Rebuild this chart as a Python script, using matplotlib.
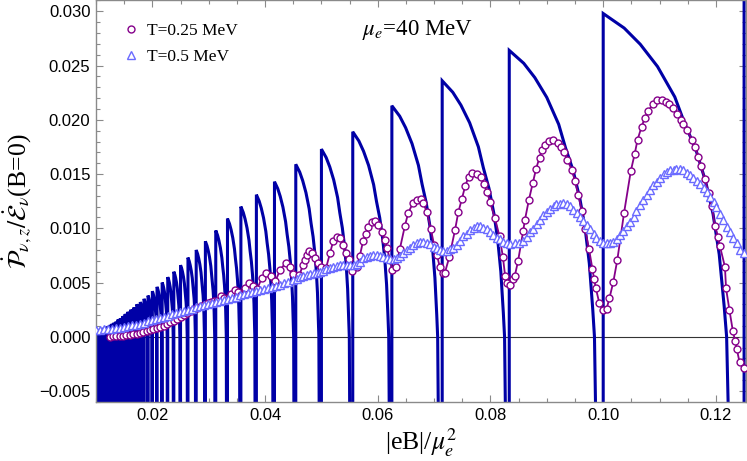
import numpy as np
import matplotlib
matplotlib.use('Agg')
import matplotlib.pyplot as plt
from matplotlib.ticker import MultipleLocator, FuncFormatter
from matplotlib.lines import Line2D

# ---------------- data ----------------
# T = 0 curve: Landau-level thresholds |eB|/mu^2, peak value at each threshold,
# fraction of the segment at which the curve crosses zero
blue_thresh = [0.01, 0.0102, 0.01042, 0.01064, 0.01087, 0.01111, 0.01136, 0.01163,
               0.0119, 0.0122, 0.0125, 0.01282, 0.01316, 0.01351, 0.01389, 0.01429,
               0.01471, 0.01515, 0.01563, 0.01613, 0.01667, 0.01724, 0.01786, 0.01852,
               0.01923, 0.02, 0.02083, 0.02174, 0.02273, 0.02381, 0.025, 0.02632,
               0.02778, 0.02941, 0.03125, 0.03333, 0.03571, 0.03846, 0.04167, 0.04545,
               0.05, 0.05556, 0.0625, 0.07143, 0.08333, 0.1, 0.125]
blue_peak = [0.0006, 0.0006, 0.0006, 0.0007, 0.0007, 0.0008, 0.0008, 0.0009,
             0.0009, 0.0010, 0.0011, 0.0012, 0.0013, 0.0014, 0.0016, 0.0017,
             0.0019, 0.0021, 0.0023, 0.0025, 0.0027, 0.0030, 0.0032, 0.0035,
             0.0038, 0.0042, 0.0046, 0.0050, 0.0055, 0.0060, 0.0066, 0.0073,
             0.0080, 0.0088, 0.0098, 0.0109, 0.0120, 0.0131, 0.0143, 0.0159,
             0.0173, 0.0189, 0.0213, 0.0236, 0.0264, 0.0298, 0.0340]
blue_zero_frac = [0.9] * 40 + [0.89, 0.92, 0.91, 0.93, 0.907, 0.876, 0.856]
# normalised shape of one segment (fraction of zero-crossing span, fraction of peak)
profile_s = [0.0, 0.17, 0.30, 0.44, 0.58, 0.66, 0.75, 0.83, 0.89, 0.94, 0.98, 1.0]
profile_f = [1.0, 0.955, 0.905, 0.836, 0.742, 0.66, 0.58, 0.48, 0.38, 0.255, 0.095, 0.0]

# T = 0.25 MeV
purple_x = [0.0124, 0.0130, 0.0136, 0.0142, 0.0148, 0.0154, 0.0160, 0.0166, 0.0172, 0.0178,
            0.0184, 0.0190, 0.0196, 0.0202, 0.0208, 0.0214, 0.0220, 0.0226, 0.0232, 0.0238,
            0.0244, 0.0250, 0.0256, 0.0262, 0.0268, 0.0274, 0.0280, 0.0286, 0.0292, 0.0298,
            0.0304, 0.0310, 0.0315,
            0.0322, 0.0328, 0.0334, 0.0340, 0.0346, 0.0352, 0.0358, 0.0365, 0.0372, 0.0379,
            0.0386, 0.0394, 0.0402, 0.0410, 0.0418, 0.0427, 0.0437, 0.0444, 0.0450, 0.0461,
            0.0467, 0.0471, 0.0474, 0.0478, 0.0484, 0.0489, 0.0494, 0.0500, 0.0508, 0.0515,
            0.0521, 0.0527, 0.0533, 0.0538, 0.0544, 0.0549, 0.0555, 0.0563, 0.0568, 0.0574,
            0.0579, 0.0583, 0.0589, 0.0595, 0.0601, 0.0607, 0.0613, 0.0616, 0.0622, 0.0626,
            0.0632, 0.0639, 0.0648, 0.0654, 0.0662, 0.0669, 0.0676, 0.0681, 0.0687, 0.0694,
            0.0700, 0.0705, 0.0710, 0.0715, 0.0719, 0.0727, 0.0737, 0.0743, 0.0749, 0.0755,
            0.0761, 0.0768, 0.0776, 0.0783, 0.0788, 0.0794, 0.0799, 0.0808, 0.0816, 0.0822,
            0.0826, 0.0830, 0.0835, 0.0840, 0.0843, 0.0849, 0.0858, 0.0861, 0.0868, 0.0875,
            0.0881, 0.0887, 0.0891, 0.0897, 0.0904, 0.0911, 0.0919, 0.0925, 0.0930, 0.0936,
            0.0944, 0.0950, 0.0956, 0.0962, 0.0968, 0.0975, 0.0981, 0.0984, 0.0987, 0.0993,
            0.0999, 0.1006, 0.1011, 0.1018, 0.1025, 0.1037, 0.1049, 0.1056, 0.1061, 0.1068,
            0.1074, 0.1080, 0.1088, 0.1095, 0.1104, 0.1111, 0.1117, 0.1124, 0.1131, 0.1138,
            0.1142, 0.1149, 0.1157, 0.1163, 0.1169, 0.1173, 0.1181, 0.1187, 0.1193, 0.1198,
            0.1204, 0.1207, 0.1216, 0.1218, 0.1224, 0.1230, 0.1234, 0.1237, 0.1242, 0.1249]
purple_y = [0.00002, 0.00003, 0.00004, 0.00006, 0.00008, 0.00012, 0.00016, 0.00022, 0.00030, 0.00038,
            0.00047, 0.00056, 0.00065, 0.00074, 0.00082, 0.00091, 0.00102, 0.00117, 0.00133, 0.00150,
            0.00166, 0.00183, 0.00200, 0.00217, 0.00234, 0.00252, 0.00268, 0.00283, 0.00297, 0.00310,
            0.00322, 0.00330, 0.00330,
            0.00372, 0.00360, 0.00345, 0.00390, 0.00430, 0.00410, 0.00385, 0.00450, 0.00497, 0.00470,
            0.00440, 0.00540, 0.00589, 0.00560, 0.00510, 0.00620, 0.00682, 0.00645, 0.00578, 0.00568,
            0.00660, 0.00706, 0.00752, 0.00792, 0.00774, 0.00722, 0.00676, 0.00645, 0.00630, 0.00768,
            0.00884, 0.00916, 0.00906, 0.00845, 0.00768, 0.00713, 0.00608, 0.00639, 0.00743, 0.00884,
            0.00946, 0.01008, 0.01059, 0.01068, 0.01029, 0.00967, 0.00891, 0.00823, 0.00706, 0.00620,
            0.00639, 0.00805, 0.01020, 0.01142, 0.01229, 0.01259, 0.01266, 0.01229, 0.01151, 0.00998,
            0.00845, 0.00752, 0.00645, 0.00589, 0.00589, 0.00737, 0.00983, 0.01151, 0.01266, 0.01388,
            0.01474, 0.01511, 0.01505, 0.01474, 0.01406, 0.01336, 0.01243, 0.01091, 0.00927, 0.00737,
            0.00559, 0.00497, 0.00476, 0.00530, 0.00559, 0.00700, 0.00976, 0.01075, 0.01259, 0.01418,
            0.01551, 0.01652, 0.01720, 0.01766, 0.01805, 0.01812, 0.01787, 0.01750, 0.01704, 0.01634,
            0.01542, 0.01437, 0.01305, 0.01161, 0.00989, 0.00805, 0.00621, 0.00529, 0.00446, 0.00313,
            0.00246, 0.00258, 0.00354, 0.00507, 0.00707, 0.01142, 0.01529, 0.01689, 0.01818, 0.01934,
            0.02021, 0.02082, 0.02143, 0.02180, 0.02187, 0.02165, 0.02143, 0.02113, 0.02058, 0.02002,
            0.01966, 0.01910, 0.01818, 0.01750, 0.01658, 0.01572, 0.01450, 0.01321, 0.01204, 0.01020,
            0.00921, 0.00838, 0.00645, 0.00446, 0.00246, 0.00055, -0.00037, -0.00113, -0.00236, -0.00291]

# T = 0.5 MeV
tri_x = [0.0100, 0.0107, 0.0114, 0.0121, 0.0128, 0.0135, 0.0142, 0.0150, 0.0157, 0.0164,
         0.0171, 0.0178, 0.0185, 0.0192, 0.0199, 0.0206, 0.0214, 0.0221, 0.0228, 0.0235,
         0.0242, 0.0249, 0.0256, 0.0263, 0.0270, 0.0277, 0.0284, 0.0292, 0.0299, 0.0306,
         0.0313, 0.0320, 0.0327, 0.0334, 0.0341, 0.0348, 0.0355, 0.0363, 0.0370, 0.0377,
         0.0384, 0.0391, 0.0398, 0.0405, 0.0412, 0.0419, 0.0427, 0.0434, 0.0441,
         0.0450, 0.0456, 0.0462, 0.0468, 0.0474, 0.0480, 0.0486, 0.0492, 0.0497, 0.0503,
         0.0509, 0.0515, 0.0521, 0.0527, 0.0533, 0.0539, 0.0545, 0.0551, 0.0557, 0.0563,
         0.0568, 0.0574, 0.0580, 0.0586, 0.0592, 0.0598, 0.0604, 0.0610, 0.0616, 0.0622,
         0.0628, 0.0634, 0.0639, 0.0645, 0.0651, 0.0657, 0.0663, 0.0669, 0.0675, 0.0681,
         0.0687, 0.0693, 0.0699, 0.0705, 0.0710, 0.0716, 0.0722, 0.0728, 0.0734, 0.0740,
         0.0746, 0.0752, 0.0758, 0.0764, 0.0770, 0.0776, 0.0782, 0.0787, 0.0793, 0.0799,
         0.0805, 0.0811, 0.0817, 0.0823, 0.0829, 0.0835,
         0.0843, 0.0851, 0.0857, 0.0864, 0.0870, 0.0876, 0.0882, 0.0888, 0.0894, 0.0900,
         0.0906, 0.0912, 0.0917, 0.0923, 0.0929, 0.0935, 0.0941, 0.0947, 0.0953, 0.0959,
         0.0965, 0.0971, 0.0977, 0.0983, 0.0988, 0.0994, 0.1000, 0.1006, 0.1012, 0.1018,
         0.1024, 0.1030, 0.1036, 0.1042, 0.1048, 0.1054, 0.1059, 0.1065, 0.1071, 0.1077,
         0.1083, 0.1089, 0.1095, 0.1101, 0.1107, 0.1113, 0.1119, 0.1125, 0.1130, 0.1136,
         0.1142, 0.1148, 0.1154, 0.1160, 0.1166, 0.1172, 0.1178, 0.1184, 0.1190, 0.1196,
         0.1201, 0.1207, 0.1213, 0.1219, 0.1225, 0.1231, 0.1237, 0.1243, 0.1249]
tri_y = [0.00062, 0.00065, 0.00068, 0.00071, 0.00073, 0.00079, 0.00085, 0.00091, 0.00097, 0.00104,
         0.00113, 0.00122, 0.00131, 0.00141, 0.00151, 0.00161, 0.00172, 0.00182, 0.00194, 0.00206,
         0.00218, 0.00229, 0.00239, 0.00250, 0.00260, 0.00271, 0.00281, 0.00291, 0.00302, 0.00312,
         0.00322, 0.00331, 0.00341, 0.00350, 0.00360, 0.00370, 0.00381, 0.00391, 0.00401, 0.00411,
         0.00420, 0.00430, 0.00440, 0.00450, 0.00462, 0.00471, 0.00481, 0.00493, 0.00505,
         0.00528, 0.00537, 0.00547, 0.00559, 0.00568, 0.00578, 0.00584, 0.00590, 0.00599, 0.00608,
         0.00621, 0.00630, 0.00645, 0.00654, 0.00660, 0.00660, 0.00664, 0.00660, 0.00660, 0.00670,
         0.00691, 0.00722, 0.00737, 0.00743, 0.00753, 0.00753, 0.00743, 0.00731, 0.00722, 0.00713,
         0.00713, 0.00722, 0.00743, 0.00768, 0.00799, 0.00823, 0.00845, 0.00860, 0.00875, 0.00875,
         0.00866, 0.00851, 0.00829, 0.00814, 0.00799, 0.00792, 0.00792, 0.00805, 0.00823, 0.00845,
         0.00885, 0.00928, 0.00952, 0.00983, 0.01007, 0.01020, 0.01020, 0.01007, 0.00989, 0.00967,
         0.00937, 0.00915, 0.00897, 0.00875, 0.00860, 0.00851,
         0.00860, 0.00866, 0.00884, 0.00921, 0.00967, 0.00998, 0.01044, 0.01075, 0.01121, 0.01152,
         0.01182, 0.01204, 0.01222, 0.01228, 0.01234, 0.01222, 0.01204, 0.01173, 0.01143, 0.01106,
         0.01069, 0.01029, 0.00989, 0.00952, 0.00915, 0.00885, 0.00866, 0.00860, 0.00860, 0.00875,
         0.00897, 0.00937, 0.00977, 0.01020, 0.01060, 0.01106, 0.01161, 0.01213, 0.01259, 0.01305,
         0.01351, 0.01397, 0.01428, 0.01468, 0.01499, 0.01520, 0.01535, 0.01542, 0.01548, 0.01545,
         0.01535, 0.01511, 0.01489, 0.01468, 0.01437, 0.01406, 0.01376, 0.01336, 0.01290, 0.01244,
         0.01192, 0.01136, 0.01081, 0.01013, 0.00967, 0.00906, 0.00860, 0.00798, 0.00768]

legend_labels = ['T=0.25 MeV', 'T=0.5 MeV']
annotation = r'$\mu_e$=40 MeV'
x_ticks = [0.02, 0.04, 0.06, 0.08, 0.10, 0.12]
y_ticks = [-0.005, 0.0, 0.005, 0.010, 0.015, 0.020, 0.025, 0.030]

# ---------------- styling ----------------
plt.rcParams['mathtext.fontset'] = 'stix'
SERIF = ['Liberation Serif', 'DejaVu Serif']
SANS = ['Liberation Sans', 'DejaVu Sans']
C_BLUE = '#0000a6'
C_PURPLE = '#85008a'
C_TRI = '#6a6aff'
FRAME = '#8a8a8a'

fig = plt.figure(figsize=(7.47, 4.61), dpi=100)
ax = fig.add_axes([96 / 747, 58.7 / 461, 649.5 / 747, 401.8 / 461])

# T = 0 sawtooth built segment by segment from the read values
bottom = -0.03
bx, by = [], []
for i, x0 in enumerate(blue_thresh):
    x1 = blue_thresh[i + 1] if i + 1 < len(blue_thresh) else x0 + 0.03
    span = (x1 - x0) * blue_zero_frac[i]
    bx += [x0, x0]
    by += [bottom, blue_peak[i]]
    for s, f in zip(profile_s[1:], profile_f[1:]):
        bx.append(x0 + s * span)
        by.append(blue_peak[i] * f)
    bx.append(x0 + 1.06 * span)
    by.append(bottom)
ax.plot(bx, by, color=C_BLUE, lw=2.2, zorder=2, solid_joinstyle='miter')

ax.axhline(0, color='#333333', lw=0.8, zorder=1.5)

ax.plot(purple_x, purple_y, color=C_PURPLE, lw=1.3, marker='o', ms=5.0,
        mfc='white', mec=C_PURPLE, mew=1.0, zorder=3)
ax.plot(tri_x, tri_y, color=C_TRI, lw=0, marker='^', ms=5.5,
        mfc='white', mec=C_TRI, mew=1.0, zorder=4)

ax.set_xlim(0.01, 0.12525)
ax.set_ylim(-0.00604, 0.0310)

ax.set_xticks(x_ticks)
ax.set_yticks(y_ticks)
ax.xaxis.set_minor_locator(MultipleLocator(0.005))
ax.yaxis.set_minor_locator(MultipleLocator(0.001))
ax.xaxis.set_major_formatter(FuncFormatter(lambda v, p: f'{v:.2f}'))
ax.yaxis.set_major_formatter(FuncFormatter(lambda v, p: f'{v:.3f}'.replace('-', '\u2212') if abs(v) > 1e-9 else '0.000'))
ax.tick_params(which='both', direction='in', top=True, right=True, color=FRAME, width=0.8)
ax.tick_params(which='major', length=5, labelsize=12, pad=4)
ax.tick_params(which='minor', length=2.8)
for lab in ax.get_xticklabels() + ax.get_yticklabels():
    lab.set_family(SANS)
for sp in ax.spines.values():
    sp.set_color(FRAME)
    sp.set_linewidth(1.0)

ax.set_xlabel(r'|eB|/$\mu_e^2$', family=SERIF, fontsize=18.5, labelpad=2)
ax.set_ylabel(r'$\dot{\mathcal{P}}_{\nu,z}/\dot{\mathcal{E}}_{\nu}$(B=0)', family=SERIF, fontsize=18.5, labelpad=4)

ax.text(0.0572, 0.02825, annotation, family=SERIF, fontsize=16.5, va='center', ha='left')

handles = [Line2D([], [], lw=0, marker='o', ms=5.0, mfc='white', mec=C_PURPLE, mew=1.0),
           Line2D([], [], lw=0, marker='^', ms=5.5, mfc='white', mec=C_TRI, mew=1.0)]
ax.legend(handles, legend_labels, loc='upper left', bbox_to_anchor=(0.025, 0.97), frameon=False,
          prop={'family': SERIF, 'size': 12.5}, handlelength=1.0, handletextpad=0.4,
          labelspacing=0.55, borderaxespad=0.2)

fig.savefig('out.png', dpi=100)
